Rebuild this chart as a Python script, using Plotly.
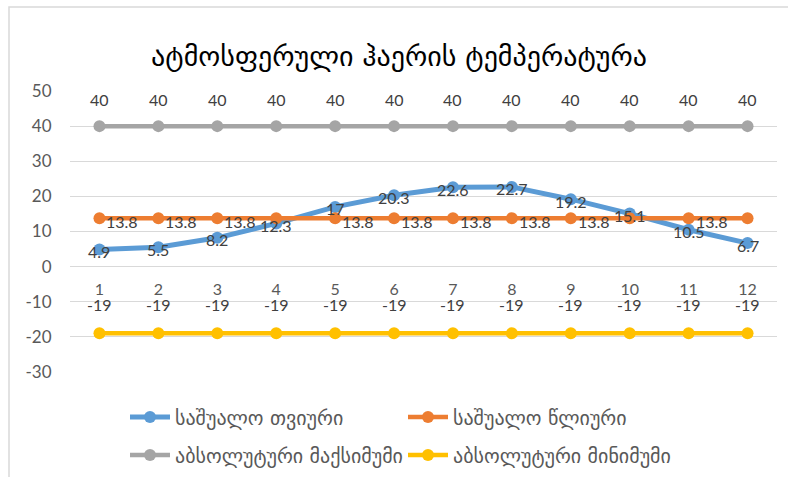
import plotly.graph_objects as go

months = [1, 2, 3, 4, 5, 6, 7, 8, 9, 10, 11, 12]
month_labels = ["1", "2", "3", "4", "5", "6", "7", "8", "9", "10", "11", "12"]
avg_monthly = [4.9, 5.5, 8.2, 12.3, 17, 20.3, 22.6, 22.7, 19.2, 15.1, 10.5, 6.7]
avg_annual = [13.8] * 12
abs_max = [40] * 12
abs_min = [-19] * 12
# which points of the annual series carry a visible data label in the reference
annual_label_shown = [1, 1, 1, 0, 1, 1, 1, 1, 1, 0, 1, 0]
y_ticks = [-30, -20, -10, 0, 10, 20, 30, 40, 50]
y_tick_labels = ["-30", "-20", "-10", "0", "10", "20", "30", "40", "50"]

title_text = "ატმოსფერული ჰაერის ტემპერატურა"
names = ["საშუალო თვიური", "საშუალო წლიური", "აბსოლუტური მაქსიმუმი", "აბსოლუტური მინიმუმი"]
colors = ["#5B9BD5", "#ED7D31", "#A5A5A5", "#FFC000"]

W, H = 788, 477
ML, MR, MT, MB = 70, 11, 91, 105
NUM_FONT = "Lato, Carlito, 'DejaVu Sans', sans-serif"
GEO_FONT = "'DejaVu Sans', sans-serif"

plot_w = W - ML - MR
plot_h = H - MT - MB
def px_x(p):
    return (p - ML) / plot_w
def px_y(p):
    return (H - MB - p) / plot_h

fig = go.Figure()
series = [avg_monthly, avg_annual, abs_max, abs_min]
legend_ids = ["legend", "legend2", "legend3", "legend4"]
widths = [5, 4.5, 4.5, 4.5]
for vals, name, col, lg, lw in zip(series, names, colors, legend_ids, widths):
    fig.add_trace(go.Scatter(
        x=months, y=vals, name=name, mode="lines+markers",
        line=dict(color=col, width=lw),
        marker=dict(color=col, size=12),
        legend=lg, hoverinfo="skip", showlegend=True,
    ))

lab_font = dict(family=NUM_FONT, size=16, color="#404040")
ann = []
for m, v in zip(months, avg_monthly):
    ann.append(dict(x=m, y=v, text=f"{v:g}", showarrow=False, xanchor="center",
                    yanchor="middle", yshift=-2, font=lab_font))
for m, v, s in zip(months, avg_annual, annual_label_shown):
    if s:
        ann.append(dict(x=m, y=v, text=f"{v:g}", showarrow=False, xanchor="left",
                        yanchor="middle", xshift=5, yshift=-3, font=lab_font))
for m, v in zip(months, abs_max):
    ann.append(dict(x=m, y=v, text=f"{v:g}", showarrow=False, xanchor="center",
                    yanchor="middle", yshift=27, font=lab_font))
for m, v in zip(months, abs_min):
    ann.append(dict(x=m, y=v, text=f"{v:g}", showarrow=False, xanchor="center",
                    yanchor="middle", yshift=29, font=lab_font))

ymin, ymax = -30, 50
zero_pos = (0 - ymin) / (ymax - ymin)

def leg(xp, yp):
    return dict(orientation="h", x=px_x(xp), xanchor="left", y=px_y(yp), yanchor="middle",
                itemwidth=40, font=dict(family=GEO_FONT, size=20, color="#595959"),
                bgcolor="rgba(0,0,0,0)")

fig.update_layout(
    width=W, height=H,
    margin=dict(l=ML, r=MR, t=MT, b=MB, autoexpand=False),
    paper_bgcolor="white", plot_bgcolor="white",
    title=dict(text=title_text, x=399 / W, xanchor="center", xref="container",
               y=1 - 56 / H, yanchor="middle", yref="container",
               font=dict(family=GEO_FONT, size=28, color="#000000")),
    xaxis=dict(range=[0.5, 12.5], tickmode="array", tickvals=months, ticktext=month_labels,
               anchor="free", position=zero_pos, showgrid=False, zeroline=False,
               showline=False, ticks="outside", ticklen=8, tickcolor="rgba(0,0,0,0)",
               tickfont=dict(family=NUM_FONT, size=16, color="#595959")),
    yaxis=dict(range=[ymin, ymax], tickmode="array", tickvals=y_ticks, ticktext=y_tick_labels,
               showgrid=True, gridcolor="#D9D9D9", gridwidth=1,
               zeroline=True, zerolinecolor="#D9D9D9", zerolinewidth=1, showline=False,
               ticks="outside", ticklen=14, tickcolor="rgba(0,0,0,0)",
               tickfont=dict(family=NUM_FONT, size=17, color="#595959")),
    annotations=ann,
    showlegend=True,
    legend=leg(125, 417),
    legend2=leg(403, 417),
    legend3=leg(125, 455),
    legend4=leg(403, 455),
    shapes=[dict(type="rect", xref="paper", yref="paper",
                 x0=px_x(9), x1=px_x(805), y0=px_y(490), y1=px_y(7),
                 line=dict(color="#D9D9D9", width=1.5), fillcolor="rgba(0,0,0,0)", layer="below")],
)

fig.write_html("out.html", config={"displayModeBar": False},
               post_script="document.body.style.margin='0';document.body.style.overflow='hidden';")
